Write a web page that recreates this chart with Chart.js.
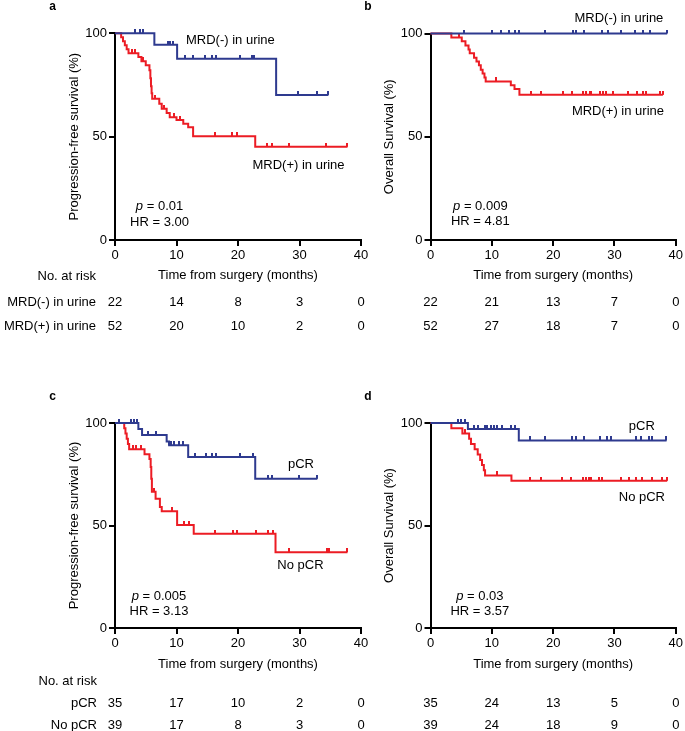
<!DOCTYPE html>
<html><head><meta charset="utf-8">
<script src="https://cdn.jsdelivr.net/npm/chart.js@4.4.1/dist/chart.umd.min.js"></script>
<style>
html,body{margin:0;padding:0;background:#fff;}
#wrap{position:relative;width:685px;height:731px;overflow:hidden;background:#fff;}
canvas{position:absolute;left:0;top:0;}
</style></head><body>
<div id="wrap">
<canvas id="pa" width="685" height="731"></canvas>
<canvas id="pb" width="685" height="731"></canvas>
<canvas id="pc" width="685" height="731"></canvas>
<canvas id="pd" width="685" height="731"></canvas>
</div>
<script>
// ---------- DATA ----------
const xTicks = [0, 10, 20, 30, 40];
const yTicks = [0, 50, 100];

// Panel a: PFS by urine MRD
const aNegT = [0, 6.4, 10.1, 26.2, 34.7];
const aNegS = [100, 94.5, 87.7, 70.2, 70.2];
const aNegCens = [3.2, 4.1, 4.6, 8.6, 8.9, 9.4, 11.4, 12.7, 14.6, 15.7, 16.4, 20.3, 22.2, 22.6, 29.8, 32.8, 34.7];
const aPosT = [0, 1.0, 1.3, 1.6, 1.9, 2.2, 3.8, 4.3, 5.0, 5.6, 5.75, 5.85, 5.95, 6.05, 7.2, 7.6, 8.4, 8.9, 10.0, 11.1, 11.9, 12.7, 22.8, 37.8];
const aPosS = [100, 98.1, 96.2, 94.2, 92.3, 90.4, 88.5, 86.5, 84.6, 82.1, 78.2, 74.4, 71.0, 68.3, 65.9, 63.5, 61.4, 59.4, 58.1, 56.2, 54.5, 50.2, 45.1, 45.1];
const aPosCens = [2.7, 3.3, 4.6, 6.5, 8.0, 9.6, 10.6, 16.2, 19.1, 19.8, 24.7, 25.6, 28.3, 34.3, 37.8];

// Panel b: OS by urine MRD
const bNegT = [0, 38.6];
const bNegS = [100, 100];
const bNegCens = [5.5, 10.1, 11.5, 12.8, 13.7, 14.5, 18.6, 23.2, 23.8, 25.1, 27.9, 29.0, 31.1, 33.3, 34.7, 35.8, 38.5];
const bPosT = [0, 3.4, 5.1, 5.7, 6.2, 6.4, 7.1, 7.5, 7.9, 8.2, 8.5, 8.8, 9.0, 13.1, 13.7, 14.5, 37.9];
const bPosS = [100, 98.1, 96.2, 94.2, 92.3, 90.4, 88.3, 86.5, 84.6, 82.5, 80.6, 78.7, 76.8, 75.0, 73.1, 70.3, 70.3];
const bPosCens = [4.6, 10.7, 16.4, 18.0, 21.6, 23.0, 24.9, 25.4, 26.0, 26.2, 27.6, 28.1, 28.7, 29.8, 32.2, 33.6, 34.7, 35.2, 37.4, 37.9];

// Panel c: PFS by pCR
const cPcrT = [0, 3.8, 4.4, 8.4, 8.8, 11.9, 22.8, 32.9];
const cPcrS = [100, 97.1, 94.1, 91.0, 89.2, 83.4, 72.8, 72.8];
const cPcrCens = [0.7, 2.6, 3.1, 3.6, 5.3, 6.6, 8.8, 9.1, 9.6, 10.4, 11.1, 13.0, 14.8, 15.8, 16.4, 20.4, 22.4, 24.8, 25.6, 29.9, 32.9];
const cNoT = [0, 1.5, 1.7, 1.9, 2.1, 2.3, 4.8, 5.6, 5.8, 5.9, 6.0, 6.6, 7.3, 7.6, 10.1, 12.8, 26.1, 37.8];
const cNoS = [100, 97.4, 94.9, 92.3, 89.7, 87.2, 84.8, 82.5, 78.5, 72.8, 66.5, 63.0, 59.0, 57.0, 50.2, 46.0, 37.0, 37.0];
const cNoCens = [2.9, 3.4, 4.2, 6.4, 9.2, 11.2, 12.1, 16.2, 19.2, 19.9, 22.9, 24.8, 25.7, 28.3, 34.4, 34.8, 37.8];

// Panel d: OS by pCR
const dPcrT = [0, 6.1, 14.4, 38.5];
const dPcrS = [100, 97.1, 91.5, 91.5];
const dPcrCens = [4.5, 4.9, 5.6, 7.1, 7.8, 8.9, 9.2, 9.8, 10.3, 10.9, 11.7, 13.1, 13.8, 16.2, 18.7, 23.1, 23.7, 25.0, 27.7, 28.8, 29.4, 33.5, 34.4, 35.6, 36.2, 38.4];
const dNoT = [0, 3.4, 5.2, 6.3, 6.6, 7.2, 7.7, 8.1, 8.4, 8.7, 8.9, 13.2, 38.6];
const dNoS = [100, 97.4, 94.9, 92.3, 89.7, 87.2, 84.6, 82.0, 79.5, 76.9, 74.4, 71.8, 71.8];
const dNoCens = [5.6, 10.9, 16.3, 18.1, 21.5, 22.9, 24.8, 25.3, 25.9, 26.1, 27.5, 28.0, 31.0, 32.4, 33.5, 34.5, 36.2, 37.8, 38.5];

// Numbers at risk
const mrdLabels = ['MRD(-) in urine', 'MRD(+) in urine'];
const pcrLabels = ['pCR', 'No pCR'];
const aRiskNeg = [22, 14, 8, 3, 0];
const aRiskPos = [52, 20, 10, 2, 0];
const bRiskNeg = [22, 21, 13, 7, 0];
const bRiskPos = [52, 27, 18, 7, 0];
const cRiskPcr = [35, 17, 10, 2, 0];
const cRiskNo = [39, 17, 8, 3, 0];
const dRiskPcr = [35, 24, 13, 5, 0];
const dRiskNo = [39, 24, 18, 9, 0];

// ---------- STYLE ----------
const FONT = '"Liberation Sans", Arial, Helvetica, sans-serif';
const BLUE = '#2E3A8F';
const RED = '#EC1C24';
const W = 685, H = 731;

function tickImg(color) {
  const c = document.createElement('canvas');
  c.width = 2; c.height = 8;
  const g = c.getContext('2d');
  g.fillStyle = color; g.fillRect(0, 0, 2, 4);
  return c;
}
const blueTick = tickImg(BLUE), redTick = tickImg(RED);

function curve(T, S) { return T.map((t, i) => ({x: t, y: S[i]})); }
function survAt(T, S, t) { let s = S[0]; for (let i = 0; i < T.length; i++) if (T[i] <= t) s = S[i]; return s; }
function cens(T, S, C) { return C.map(t => ({x: t, y: survAt(T, S, t)})); }

const panels = [
  { id: 'pa', letter: 'a', yTitle: 'Progression-free survival (%)', area: {l: 115, r: 361, t: 33.3, b: 240},
    blue: [aNegT, aNegS, aNegCens], red: [aPosT, aPosS, aPosCens],
    notes: [{text: 'MRD(-) in urine', x: 11.54, y: 96.4, align: 'left'},
            {text: 'MRD(+) in urine', x: 29.84, y: 35.95, align: 'center'}],
    stats: {p: '0.01', hr: '3.00', x: 7.24, yp: 16.1, yhr: 8.7},
    risk: {header: 'No. at risk', headerY: 276, labels: mrdLabels, labelRight: 96, rowsY: [302, 326], counts: [aRiskNeg, aRiskPos]},
    xTitleY: 275 },
  { id: 'pb', letter: 'b', yTitle: 'Overall Survival (%)', area: {l: 430.5, r: 676.5, t: 33.5, b: 240},
    blue: [bNegT, bNegS, bNegCens], red: [bPosT, bPosS, bPosCens],
    notes: [{text: 'MRD(-) in urine', x: 30.73, y: 107.4, align: 'center'},
            {text: 'MRD(+) in urine', x: 30.57, y: 62.5, align: 'center'}],
    stats: {p: '0.009', hr: '4.81', x: 8.13, yp: 16.1, yhr: 8.9},
    risk: {header: null, labels: null, rowsY: [302, 326], counts: [bRiskNeg, bRiskPos]},
    xTitleY: 275 },
  { id: 'pc', letter: 'c', yTitle: 'Progression-free survival (%)', area: {l: 115, r: 361, t: 423, b: 628},
    blue: [cPcrT, cPcrS, cPcrCens], red: [cNoT, cNoS, cNoCens],
    notes: [{text: 'pCR', x: 30.24, y: 80.0, align: 'center'},
            {text: 'No pCR', x: 30.16, y: 30.7, align: 'center'}],
    stats: {p: '0.005', hr: '3.13', x: 7.15, yp: 15.3, yhr: 8.0},
    risk: {header: 'No. at risk', headerY: 681, labels: pcrLabels, labelRight: 97, rowsY: [703, 725], counts: [cRiskPcr, cRiskNo]},
    xTitleY: 664 },
  { id: 'pd', letter: 'd', yTitle: 'Overall Survival (%)', area: {l: 430.5, r: 676.5, t: 423, b: 628},
    blue: [dPcrT, dPcrS, dPcrCens], red: [dNoT, dNoS, dNoCens],
    notes: [{text: 'pCR', x: 34.47, y: 98.5, align: 'center'},
            {text: 'No pCR', x: 34.47, y: 63.9, align: 'center'}],
    stats: {p: '0.03', hr: '3.57', x: 8.05, yp: 15.3, yhr: 8.0},
    risk: {header: null, labels: null, rowsY: [703, 725], counts: [dRiskPcr, dRiskNo]},
    xTitleY: 664 }
];

function textPlugin(P) {
  return {
    id: 'txt_' + P.id,
    afterDraw(chart) {
      const ctx = chart.ctx, xs = chart.scales.x, ys = chart.scales.y, ca = chart.chartArea;
      ctx.save();
      ctx.fillStyle = '#000';
      ctx.textBaseline = 'middle';
      // panel letter
      ctx.font = 'bold 12px ' + FONT; ctx.textAlign = 'center';
      ctx.fillText(P.letter, ca.left - 62.5, ca.top - 26.6);
      // y title
      ctx.font = '13px ' + FONT;
      ctx.save();
      ctx.translate(ca.left - 41, (ca.top + ca.bottom) / 2);
      ctx.rotate(-Math.PI / 2);
      ctx.textAlign = 'center';
      ctx.fillText(P.yTitle, 0, 0);
      ctx.restore();
      // x title
      ctx.textAlign = 'center';
      ctx.fillText('Time from surgery (months)', (ca.left + ca.right) / 2, P.xTitleY);
      // curve labels
      P.notes.forEach(n => {
        ctx.textAlign = n.align;
        ctx.fillText(n.text, xs.getPixelForValue(n.x), ys.getPixelForValue(n.y));
      });
      // stats
      const cx = xs.getPixelForValue(P.stats.x);
      ctx.font = 'italic 13px ' + FONT;
      const wp = ctx.measureText('p').width;
      ctx.font = '13px ' + FONT;
      const rest = ' = ' + P.stats.p;
      const wr = ctx.measureText(rest).width;
      const x0 = cx - (wp + wr) / 2;
      const yp = ys.getPixelForValue(P.stats.yp);
      ctx.textAlign = 'left';
      ctx.font = 'italic 13px ' + FONT;
      ctx.fillText('p', x0, yp);
      ctx.font = '13px ' + FONT;
      ctx.fillText(rest, x0 + wp, yp);
      ctx.textAlign = 'center';
      ctx.fillText('HR = ' + P.stats.hr, cx, ys.getPixelForValue(P.stats.yhr));
      // numbers at risk
      const R = P.risk;
      if (R.header) { ctx.textAlign = 'right'; ctx.fillText(R.header, R.labelRight, R.headerY); }
      R.counts.forEach((row, ri) => {
        if (R.labels) { ctx.textAlign = 'right'; ctx.fillText(R.labels[ri], R.labelRight, R.rowsY[ri]); }
        ctx.textAlign = 'center';
        row.forEach((v, i) => ctx.fillText(String(v), xs.getPixelForValue(xTicks[i]), R.rowsY[ri]));
      });
      ctx.restore();
    }
  };
}

function axisOpts(ticksArr, min, max, isX) {
  return {
    type: 'linear', min: min, max: max,
    afterBuildTicks: s => { s.ticks = ticksArr.map(v => ({value: v})); },
    afterFit: s => { if (isX) s.height = 30; else s.width = 30; },
    ticks: { color: '#000', font: {size: 13, family: FONT}, padding: isX ? 2 : 2, maxRotation: 0, autoSkip: false },
    grid: { drawOnChartArea: false, drawTicks: true, tickLength: 6, color: '#000', lineWidth: 2 },
    border: { display: true, color: '#000', width: 2 }
  };
}

panels.forEach(P => {
  const [bT, bS, bC] = P.blue, [rT, rS, rC] = P.red;
  const A = P.area;
  new Chart(document.getElementById(P.id), {
    type: 'line',
    data: { datasets: [
      { type: 'scatter', data: cens(bT, bS, bC), pointStyle: blueTick, pointRadius: 2, showLine: false, clip: false },
      { data: curve(bT, bS), borderColor: BLUE, borderWidth: 2, stepped: true, pointRadius: 0, fill: false, tension: 0, clip: false },
      { type: 'scatter', data: cens(rT, rS, rC), pointStyle: redTick, pointRadius: 2, showLine: false, clip: false },
      { data: curve(rT, rS), borderColor: RED, borderWidth: 2, stepped: true, pointRadius: 0, fill: false, tension: 0, clip: false }
    ]},
    options: {
      responsive: false, animation: false, events: [],
      layout: { padding: { left: A.l - 30, right: W - A.r, top: A.t, bottom: H - A.b - 30 } },
      plugins: { legend: {display: false}, tooltip: {enabled: false}, title: {display: false} },
      scales: { x: axisOpts(xTicks, 0, 40, true), y: axisOpts(yTicks, 0, 100, false) }
    },
    plugins: [textPlugin(P)]
  });
});
</script>
</body></html>
